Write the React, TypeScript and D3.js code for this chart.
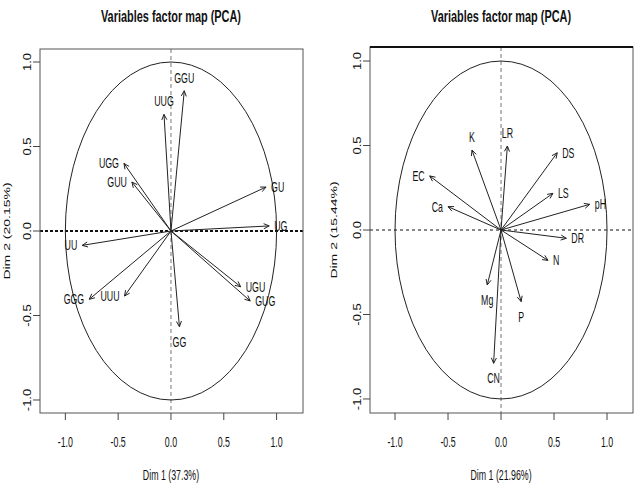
// App.tsx
import React from "react";
import * as d3 from "d3";

// variables (codons) - coordinates on Dim 1 / Dim 2
const LEFT_NAMES = ["GGU", "UUG", "UGG", "GUU", "GU", "UG", "UU", "GGG", "UUU", "UGU", "GUG", "GG"];
const LEFT_X = [0.126, -0.066, -0.445, -0.37, 0.9, 0.93, -0.84, -0.774, -0.44, 0.66, 0.75, 0.08];
const LEFT_Y = [0.83, 0.69, 0.4, 0.29, 0.26, 0.03, -0.085, -0.404, -0.385, -0.33, -0.414, -0.566];

// soil / plant variables
const RIGHT_NAMES = ["K", "LR", "DS", "LS", "pH", "EC", "Ca", "DR", "N", "Mg", "P", "CN"];
const RIGHT_X = [-0.274, 0.06, 0.53, 0.49, 0.837, -0.673, -0.5, 0.616, 0.443, -0.13, 0.19, -0.07];
const RIGHT_Y = [0.473, 0.497, 0.457, 0.217, 0.152, 0.32, 0.138, -0.049, -0.18, -0.325, -0.424, -0.789];

const TICKS = [-1, -0.5, 0, 0.5, 1];
const TICK_LABELS = ["-1.0", "-0.5", "0.0", "0.5", "1.0"];

const TITLE = "Variables factor map (PCA)";

const FONT = "'Liberation Sans', Arial, sans-serif";
const SX = 0.63; // the picture is squeezed horizontally

type PanelProps = {
    names: string[];
    xs: number[];
    ys: number[];
    xlab: string;
    ylab: string;
    left: number;
    right: number;
    top: number;
    bottom: number;
    xDomain: [number, number];
    yDomain: [number, number];
    ylabX: number;
    thickTop?: boolean;
    heavyZero?: boolean;
};

const HText = ({ x, y, anchor, size, bold, dy, children }: any) => (
    <text
        transform={`translate(${x},${y}) scale(${bold ? 0.65 : SX},1)`}
        textAnchor={anchor}
        fontSize={size}
        fontWeight={bold ? "bold" : "normal"}
        dy={dy}
        fontFamily={FONT}
        fill="#111"
    >
        {children}
    </text>
);

const VText = ({ x, y, size, sy, children }: any) => (
    <text
        transform={`translate(${x},${y}) rotate(-90) scale(1,${sy})`}
        textAnchor="middle"
        fontSize={size}
        fontFamily={FONT}
        fill="#111"
    >
        {children}
    </text>
);

const Panel = (p: PanelProps) => {
    const x = d3.scaleLinear().domain(p.xDomain).range([p.left, p.right]);
    const y = d3.scaleLinear().domain(p.yDomain).range([p.bottom, p.top]);
    const cy = (p.top + p.bottom) / 2;

    const arrows = p.names.map((name, i) => {
        const x0 = x(0), y0 = y(0);
        const x1 = x(p.xs[i]), y1 = y(p.ys[i]);
        const ang = Math.atan2(y1 - y0, x1 - x0);
        const hl = 6, ha = (25 * Math.PI) / 180;
        const h1 = [x1 - hl * Math.cos(ang - ha), y1 - hl * Math.sin(ang - ha)];
        const h2 = [x1 - hl * Math.cos(ang + ha), y1 - hl * Math.sin(ang + ha)];
        // label position like FactoMineR: side by the larger coordinate
        let lx = x1, ly = y1, anchor = "middle", dy = "0";
        if (Math.abs(p.xs[i]) > Math.abs(p.ys[i])) {
            anchor = p.xs[i] > 0 ? "start" : "end";
            lx = p.xs[i] > 0 ? x1 + 5 : x1 - 5;
            dy = "0.36em";
        } else if (p.ys[i] > 0) {
            ly = y1 - 8;
        } else {
            ly = y1 + 20;
        }
        return (
            <g key={name}>
                <line x1={x0} y1={y0} x2={x1} y2={y1} stroke="#222" strokeWidth={1} />
                <path d={`M${h1[0]},${h1[1]}L${x1},${y1}L${h2[0]},${h2[1]}`} fill="none" stroke="#222" strokeWidth={1} />
                <HText x={lx} y={ly} anchor={anchor} size={14} dy={dy}>
                    {name}
                </HText>
            </g>
        );
    });

    return (
        <g>
            <HText x={x(0)} y={21.5} anchor="middle" size={16.8} bold>
                {TITLE}
            </HText>
            {/* zero lines */}
            <line
                x1={p.left}
                x2={p.right}
                y1={y(0)}
                y2={y(0)}
                stroke="#111"
                strokeWidth={p.heavyZero ? 2 : 1}
                strokeDasharray={p.heavyZero ? "3,2" : "3,3"}
            />
            <line x1={x(0)} x2={x(0)} y1={p.top} y2={p.bottom} stroke="#777" strokeWidth={1} strokeDasharray="4,3" />
            {/* correlation circle */}
            <ellipse
                cx={x(0)}
                cy={y(0)}
                rx={x(1) - x(0)}
                ry={y(0) - y(1)}
                fill="none"
                stroke="#222"
                strokeWidth={1}
            />
            {arrows}
            {/* box */}
            <rect
                x={p.left}
                y={p.top}
                width={p.right - p.left}
                height={p.bottom - p.top}
                fill="none"
                stroke="#555"
                strokeWidth={1}
            />
            {p.thickTop && <line x1={p.left} x2={p.right} y1={p.top} y2={p.top} stroke="#111" strokeWidth={2} />}
            {/* x axis */}
            {TICKS.map((t, i) => (
                <g key={"x" + t}>
                    <line x1={x(t)} x2={x(t)} y1={p.bottom} y2={p.bottom + 7} stroke="#444" />
                    <HText x={x(t)} y={p.bottom + 34} anchor="middle" size={14}>
                        {TICK_LABELS[i]}
                    </HText>
                </g>
            ))}
            {/* y axis */}
            {TICKS.map((t, i) => (
                <g key={"y" + t}>
                    <line x1={p.left} x2={p.left - 7} y1={y(t)} y2={y(t)} stroke="#444" />
                    <VText x={p.left - 9.5} y={y(t)} size={13} sy={0.85}>
                        {TICK_LABELS[i]}
                    </VText>
                </g>
            ))}
            <HText x={x(0)} y={479.5} anchor="middle" size={14}>
                {p.xlab}
            </HText>
            <VText x={p.ylabX} y={cy} size={14} sy={0.68}>
                {p.ylab}
            </VText>
        </g>
    );
};

export default function App() {
    return (
        <svg
            width={637}
            height={484}
            style={{ position: "absolute", left: 0, top: 0, background: "#fff" }}
        >
            <Panel
                names={LEFT_NAMES}
                xs={LEFT_X}
                ys={LEFT_Y}
                xlab="Dim 1 (37.3%)"
                ylab="Dim 2 (20.15%)"
                left={40}
                right={303}
                top={49}
                bottom={413}
                xDomain={[-1.24, 1.25]}
                yDomain={[-1.077, 1.077]}
                ylabX={10}
                heavyZero
            />
            <Panel
                names={RIGHT_NAMES}
                xs={RIGHT_X}
                ys={RIGHT_Y}
                xlab="Dim 1 (21.96%)"
                ylab="Dim 2 (15.44%)"
                left={370}
                right={633}
                top={47}
                bottom={413}
                xDomain={[-1.236, 1.245]}
                yDomain={[-1.083, 1.083]}
                ylabX={337}
                thickTop
            />
        </svg>
    );
}
